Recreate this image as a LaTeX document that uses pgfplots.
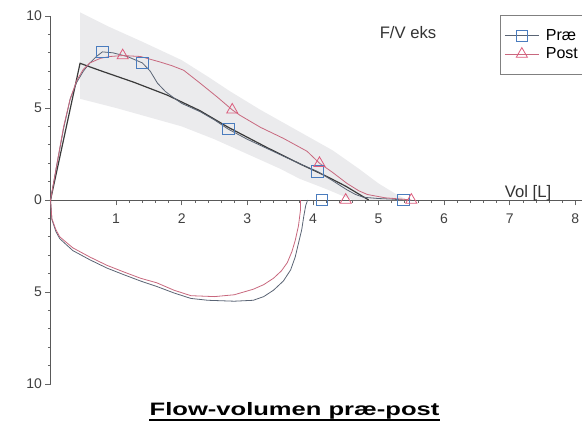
\documentclass[border=0pt]{standalone}
\usepackage{fontspec}
\setmainfont{Liberation Sans}
\newfontfamily\titlefont[FakeStretch=1.42]{Liberation Sans}
\usepackage{pgfplots}
\pgfplotsset{compat=1.18}
\definecolor{preline}{HTML}{5A6474}
\definecolor{premark}{HTML}{4A7CBE}
\definecolor{postline}{HTML}{C8687E}
\definecolor{postmark}{HTML}{DC5C7C}
\definecolor{predline}{HTML}{3A3A3A}
\definecolor{bandgray}{HTML}{EBEBED}
\begin{document}
\begin{tikzpicture}
\useasboundingbox (0,0) rectangle (436.5pt,-324.75pt);
\begin{axis}[
  at={(37.9pt,-150pt)}, anchor=origin,
  scale only axis, width=398.5pt, height=276pt,
  xmin=0, xmax=8.1, ymin=-10, ymax=10,
  axis lines=middle,
  axis line style={-, draw=black!65, line width=0.6pt},
  xtick={1,2,3,4,5,6,7,8},
  ytick={-10,-5,0,5,10}, yticklabels={10,5,0,5,10},
  minor x tick num=4, minor y tick num=4,
  hide obscured y ticks=false,
  tick style={black!60, line width=0.5pt},
  major tick length=4pt, minor tick length=2pt,
  xtick align=outside, ytick align=outside,
  /pgf/number format/assume math mode=true,
  ticklabel style={font=\fontsize{10.5}{12}\selectfont, text=black!75},
  xticklabel style={yshift=-3pt},
  yticklabel style={xshift=1pt},
  legend style={at={(0.845,1.003)}, anchor=north west, draw=black!50, fill=white,
    font=\fontsize{12}{14}\selectfont, inner xsep=3.5pt, inner ysep=8.5pt},
  legend cell align=left,
  legend image code/.code={\draw[mark repeat=2,mark phase=2,#1] plot coordinates {(0pt,0pt) (12.75pt,0pt) (25.5pt,0pt)}; \path (28.5pt,0pt);},
  clip=false,
]
% normal band
\addplot[fill=bandgray, draw=none, forget plot] coordinates {
 (0.45,5.5) (0.45,10.2) (0.9,9.4) (1.4,8.6) (2.0,7.6) (2.4,6.7) (2.74,5.9) (3.2,4.9)
 (3.6,4.1) (4.0,3.3) (4.3,2.7) (4.7,1.7) (5.0,0.9) (5.3,0.25) (5.45,0)
 (4.6,0) (4.2,0.6) (3.8,1.15) (3.5,1.7) (3.0,2.5) (2.5,3.3) (2.0,4.0) (1.5,4.5) (1.0,5.0) (0.45,5.5)
} -- cycle;
% predicted
\addplot[predline, line width=0.9pt, forget plot] coordinates {
 (0,0) (0.45,7.43) (0.76,7.03) (1.27,6.4) (1.78,5.7) (2.28,4.85) (2.71,3.95)
 (3.3,2.85) (3.81,1.95) (4.2,1.3) (4.5,0.75) (4.85,0)
};
% pre expiratory
\addplot[preline, line width=0.6pt, forget plot] coordinates {
 (0,0) (0.1,2.0) (0.2,3.9) (0.3,5.5) (0.4,6.4) (0.5,7.0) (0.6,7.45) (0.7,7.8) (0.79,8.05)
 (0.95,8.0) (1.17,7.8) (1.4,7.45) (1.52,7.0) (1.63,6.35) (1.75,5.9) (1.88,5.55) (2.0,5.25)
 (2.28,4.8) (2.5,4.35) (2.71,3.85) (3.0,3.3) (3.3,2.8) (3.6,2.3) (3.81,1.95) (4.07,1.55)
 (4.3,1.05) (4.52,0.55) (4.65,0.3) (4.77,0.15) (5.0,0.08) (5.2,0.05) (5.38,0)
};
% pre inspiratory
\addplot[preline, line width=0.6pt, forget plot] coordinates {
 (0,0) (0.01,-0.5) (0.02,-1.05) (0.08,-1.7) (0.14,-2.1) (0.34,-2.75) (0.6,-3.25) (0.86,-3.7)
 (1.11,-4.05) (1.37,-4.4) (1.62,-4.7) (1.88,-5.05) (2.14,-5.35) (2.4,-5.45) (2.8,-5.5)
 (3.09,-5.45) (3.25,-5.25) (3.4,-4.9) (3.55,-4.4) (3.66,-3.8) (3.73,-3.1) (3.78,-2.35)
 (3.83,-1.6) (3.86,-0.9) (3.89,-0.3) (3.92,0)
};
% post expiratory
\addplot[postline, line width=0.6pt, forget plot] coordinates {
 (0,0) (0.1,2.0) (0.2,4.0) (0.3,5.5) (0.4,6.5) (0.5,7.1) (0.6,7.45) (0.76,7.7) (0.91,7.8)
 (1.1,7.85) (1.37,7.8) (1.67,7.5) (1.85,7.3) (2.03,7.05) (2.28,6.35) (2.54,5.6) (2.77,4.9)
 (2.89,4.6) (3.2,3.95) (3.55,3.35) (3.91,2.65) (4.1,2.0) (4.3,1.5) (4.52,0.9) (4.7,0.5)
 (4.83,0.3) (5.1,0.12) (5.35,0.05) (5.5,0)
};
% post inspiratory
\addplot[postline, line width=0.6pt, forget plot] coordinates {
 (0,0) (0.01,-0.5) (0.02,-1.0) (0.08,-1.6) (0.14,-2.0) (0.34,-2.6) (0.6,-3.1) (0.86,-3.55)
 (1.11,-3.9) (1.37,-4.25) (1.62,-4.5) (1.88,-4.9) (2.14,-5.2) (2.5,-5.25) (2.8,-5.15)
 (3.09,-4.85) (3.25,-4.6) (3.4,-4.25) (3.52,-3.85) (3.61,-3.4) (3.68,-2.8) (3.73,-2.2)
 (3.78,-1.4) (3.81,-0.55) (3.81,0)
};
% markers
\addplot[only marks, mark=square, mark size=4.3pt, mark options={draw=premark, line width=0.6pt, fill=none}, forget plot] coordinates {
 (0.79,8.05) (1.4,7.45) (2.71,3.85) (4.07,1.55) (4.14,0) (5.38,0)
};
\addplot[only marks, mark=triangle, mark size=4.8pt, mark options={draw=postmark, line width=0.6pt, fill=none}, forget plot] coordinates {
 (1.1,7.85) (2.77,4.9) (4.1,2.0) (4.5,0) (5.5,0)
};
\addlegendimage{preline, line width=0.6pt, mark=square, mark size=4.3pt, mark options={draw=premark, fill=none}}
\addlegendentry{Præ}
\addlegendimage{postline, line width=0.6pt, mark=triangle, mark size=4.8pt, mark options={draw=postmark, fill=none}}
\addlegendentry{Post}
\end{axis}
\node[font=\fontsize{12.5}{14}\selectfont, text=black!80] at (306pt,-24.75pt) {F/V eks};
\node[font=\fontsize{12.5}{14}\selectfont, text=black!80, anchor=base, inner sep=0pt] at (396pt,-147.75pt) {Vol [L]};
\node[anchor=base, inner sep=0pt, font=\titlefont\bfseries\fontsize{13.5}{16}\selectfont] (t) at (220.9pt,-311.25pt) {Flow-volumen præ-post};
\draw[line width=1.1pt] ([yshift=-3.6pt]t.base west) -- ([yshift=-3.6pt]t.base east);
\end{tikzpicture}
\end{document}
